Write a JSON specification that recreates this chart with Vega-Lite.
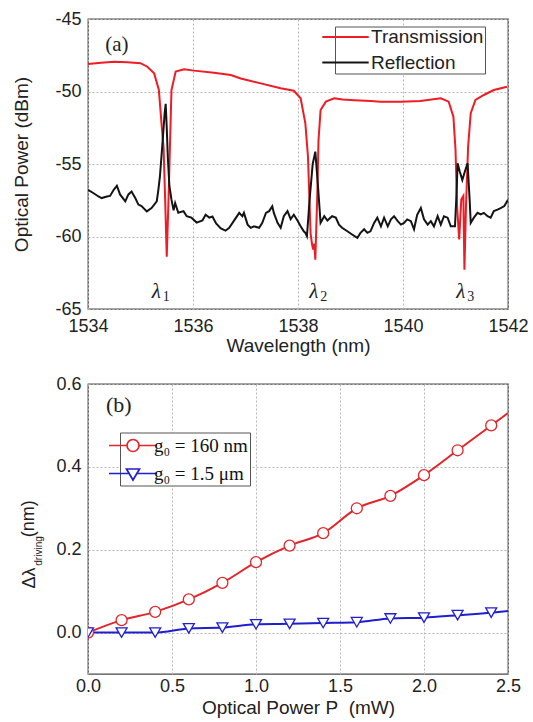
{
  "$schema": "https://vega.github.io/schema/vega-lite/v6.json",
  "background": "white",
  "padding": {"left": 12, "top": 9, "right": 5, "bottom": 0},
  "bounds": "flush",
  "spacing": 75,
  "resolve": {"scale": {"color": "independent", "x": "independent", "y": "independent"}, "legend": {"color": "independent"}},
  "config": {
    "font": "Liberation Sans",
    "view": {"stroke": "#4a4a4a", "strokeWidth": 1.3},
    "axis": {
      "grid": true, "gridColor": "#b5b5b5", "gridDash": [2, 2], "gridWidth": 1,
      "domain": false, "ticks": false, "tickSize": 0, "labelFlush": false, "labelOverlap": false,
      "labelFont": "Liberation Sans", "labelFontSize": 18, "labelColor": "#222222", "labelPadding": 7,
      "titleFont": "Liberation Sans", "titleFontSize": 19, "titleFontWeight": "normal", "titleColor": "#222222"
    },
    "legend": {"titleFontWeight": "normal"}
  },
  "datasets": {
    "spectra": [
      {"series": "Transmission", "wl": 1534.00, "power": -48.10},
      {"series": "Transmission", "wl": 1534.25, "power": -48.02},
      {"series": "Transmission", "wl": 1534.50, "power": -47.94},
      {"series": "Transmission", "wl": 1534.75, "power": -47.98},
      {"series": "Transmission", "wl": 1535.00, "power": -48.05},
      {"series": "Transmission", "wl": 1535.13, "power": -48.29},
      {"series": "Transmission", "wl": 1535.26, "power": -48.75},
      {"series": "Transmission", "wl": 1535.35, "power": -49.90},
      {"series": "Transmission", "wl": 1535.40, "power": -52.20},
      {"series": "Transmission", "wl": 1535.44, "power": -53.90},
      {"series": "Transmission", "wl": 1535.47, "power": -57.50},
      {"series": "Transmission", "wl": 1535.50, "power": -61.40},
      {"series": "Transmission", "wl": 1535.53, "power": -57.90},
      {"series": "Transmission", "wl": 1535.56, "power": -53.90},
      {"series": "Transmission", "wl": 1535.59, "power": -49.90},
      {"series": "Transmission", "wl": 1535.67, "power": -48.63},
      {"series": "Transmission", "wl": 1535.83, "power": -48.47},
      {"series": "Transmission", "wl": 1536.02, "power": -48.56},
      {"series": "Transmission", "wl": 1536.40, "power": -48.70},
      {"series": "Transmission", "wl": 1536.72, "power": -48.86},
      {"series": "Transmission", "wl": 1536.91, "power": -49.10},
      {"series": "Transmission", "wl": 1537.29, "power": -49.44},
      {"series": "Transmission", "wl": 1537.67, "power": -49.78},
      {"series": "Transmission", "wl": 1537.92, "power": -49.95},
      {"series": "Transmission", "wl": 1538.05, "power": -50.47},
      {"series": "Transmission", "wl": 1538.14, "power": -52.20},
      {"series": "Transmission", "wl": 1538.19, "power": -54.50},
      {"series": "Transmission", "wl": 1538.24, "power": -59.80},
      {"series": "Transmission", "wl": 1538.27, "power": -60.60},
      {"series": "Transmission", "wl": 1538.29, "power": -60.90},
      {"series": "Transmission", "wl": 1538.31, "power": -60.50},
      {"series": "Transmission", "wl": 1538.33, "power": -61.60},
      {"series": "Transmission", "wl": 1538.37, "power": -56.80},
      {"series": "Transmission", "wl": 1538.39, "power": -53.40},
      {"series": "Transmission", "wl": 1538.43, "power": -51.28},
      {"series": "Transmission", "wl": 1538.53, "power": -50.70},
      {"series": "Transmission", "wl": 1538.69, "power": -50.47},
      {"series": "Transmission", "wl": 1538.85, "power": -50.55},
      {"series": "Transmission", "wl": 1539.07, "power": -50.60},
      {"series": "Transmission", "wl": 1539.39, "power": -50.65},
      {"series": "Transmission", "wl": 1539.57, "power": -50.70},
      {"series": "Transmission", "wl": 1539.96, "power": -50.70},
      {"series": "Transmission", "wl": 1540.33, "power": -50.65},
      {"series": "Transmission", "wl": 1540.72, "power": -50.47},
      {"series": "Transmission", "wl": 1540.87, "power": -50.70},
      {"series": "Transmission", "wl": 1540.96, "power": -51.74},
      {"series": "Transmission", "wl": 1541.00, "power": -54.00},
      {"series": "Transmission", "wl": 1541.03, "power": -57.90},
      {"series": "Transmission", "wl": 1541.07, "power": -60.20},
      {"series": "Transmission", "wl": 1541.11, "power": -57.45},
      {"series": "Transmission", "wl": 1541.15, "power": -57.20},
      {"series": "Transmission", "wl": 1541.17, "power": -62.30},
      {"series": "Transmission", "wl": 1541.20, "power": -57.90},
      {"series": "Transmission", "wl": 1541.24, "power": -53.80},
      {"series": "Transmission", "wl": 1541.29, "power": -51.50},
      {"series": "Transmission", "wl": 1541.38, "power": -50.58},
      {"series": "Transmission", "wl": 1541.54, "power": -50.24},
      {"series": "Transmission", "wl": 1541.73, "power": -49.90},
      {"series": "Transmission", "wl": 1541.98, "power": -49.67},
      {"series": "Reflection", "wl": 1534.00, "power": -56.78},
      {"series": "Reflection", "wl": 1534.10, "power": -57.00},
      {"series": "Reflection", "wl": 1534.20, "power": -57.24},
      {"series": "Reflection", "wl": 1534.26, "power": -57.35},
      {"series": "Reflection", "wl": 1534.36, "power": -57.24},
      {"series": "Reflection", "wl": 1534.42, "power": -57.20},
      {"series": "Reflection", "wl": 1534.49, "power": -56.78},
      {"series": "Reflection", "wl": 1534.55, "power": -56.50},
      {"series": "Reflection", "wl": 1534.61, "power": -57.10},
      {"series": "Reflection", "wl": 1534.71, "power": -57.58},
      {"series": "Reflection", "wl": 1534.77, "power": -57.10},
      {"series": "Reflection", "wl": 1534.83, "power": -56.90},
      {"series": "Reflection", "wl": 1534.90, "power": -57.35},
      {"series": "Reflection", "wl": 1534.96, "power": -57.80},
      {"series": "Reflection", "wl": 1535.02, "power": -57.90},
      {"series": "Reflection", "wl": 1535.12, "power": -58.27},
      {"series": "Reflection", "wl": 1535.21, "power": -58.04},
      {"series": "Reflection", "wl": 1535.31, "power": -57.58},
      {"series": "Reflection", "wl": 1535.34, "power": -56.78},
      {"series": "Reflection", "wl": 1535.37, "power": -55.86},
      {"series": "Reflection", "wl": 1535.42, "power": -53.50},
      {"series": "Reflection", "wl": 1535.46, "power": -51.50},
      {"series": "Reflection", "wl": 1535.48, "power": -50.85},
      {"series": "Reflection", "wl": 1535.50, "power": -52.50},
      {"series": "Reflection", "wl": 1535.52, "power": -54.50},
      {"series": "Reflection", "wl": 1535.55, "power": -56.50},
      {"series": "Reflection", "wl": 1535.59, "power": -57.46},
      {"series": "Reflection", "wl": 1535.63, "power": -58.20},
      {"series": "Reflection", "wl": 1535.66, "power": -57.70},
      {"series": "Reflection", "wl": 1535.72, "power": -58.36},
      {"series": "Reflection", "wl": 1535.82, "power": -58.25},
      {"series": "Reflection", "wl": 1535.88, "power": -58.60},
      {"series": "Reflection", "wl": 1535.97, "power": -58.70},
      {"series": "Reflection", "wl": 1536.07, "power": -59.04},
      {"series": "Reflection", "wl": 1536.18, "power": -58.90},
      {"series": "Reflection", "wl": 1536.24, "power": -58.50},
      {"series": "Reflection", "wl": 1536.31, "power": -58.70},
      {"series": "Reflection", "wl": 1536.37, "power": -58.62},
      {"series": "Reflection", "wl": 1536.44, "power": -59.10},
      {"series": "Reflection", "wl": 1536.53, "power": -59.45},
      {"series": "Reflection", "wl": 1536.62, "power": -59.60},
      {"series": "Reflection", "wl": 1536.69, "power": -59.40},
      {"series": "Reflection", "wl": 1536.82, "power": -58.70},
      {"series": "Reflection", "wl": 1536.88, "power": -58.37},
      {"series": "Reflection", "wl": 1536.94, "power": -58.60},
      {"series": "Reflection", "wl": 1536.97, "power": -58.37},
      {"series": "Reflection", "wl": 1537.04, "power": -59.18},
      {"series": "Reflection", "wl": 1537.10, "power": -59.40},
      {"series": "Reflection", "wl": 1537.16, "power": -59.30},
      {"series": "Reflection", "wl": 1537.26, "power": -59.40},
      {"series": "Reflection", "wl": 1537.32, "power": -59.06},
      {"series": "Reflection", "wl": 1537.39, "power": -58.37},
      {"series": "Reflection", "wl": 1537.45, "power": -58.25},
      {"series": "Reflection", "wl": 1537.51, "power": -57.92},
      {"series": "Reflection", "wl": 1537.54, "power": -58.37},
      {"series": "Reflection", "wl": 1537.61, "power": -59.06},
      {"series": "Reflection", "wl": 1537.67, "power": -59.40},
      {"series": "Reflection", "wl": 1537.73, "power": -58.60},
      {"series": "Reflection", "wl": 1537.80, "power": -58.25},
      {"series": "Reflection", "wl": 1537.86, "power": -58.80},
      {"series": "Reflection", "wl": 1537.92, "power": -58.50},
      {"series": "Reflection", "wl": 1537.99, "power": -58.90},
      {"series": "Reflection", "wl": 1538.05, "power": -59.30},
      {"series": "Reflection", "wl": 1538.11, "power": -59.64},
      {"series": "Reflection", "wl": 1538.14, "power": -59.75},
      {"series": "Reflection", "wl": 1538.17, "power": -59.98},
      {"series": "Reflection", "wl": 1538.22, "power": -57.50},
      {"series": "Reflection", "wl": 1538.28, "power": -55.00},
      {"series": "Reflection", "wl": 1538.33, "power": -54.15},
      {"series": "Reflection", "wl": 1538.38, "power": -56.50},
      {"series": "Reflection", "wl": 1538.43, "power": -59.06},
      {"series": "Reflection", "wl": 1538.50, "power": -58.60},
      {"series": "Reflection", "wl": 1538.56, "power": -58.90},
      {"series": "Reflection", "wl": 1538.65, "power": -58.60},
      {"series": "Reflection", "wl": 1538.72, "power": -58.70},
      {"series": "Reflection", "wl": 1538.78, "power": -59.18},
      {"series": "Reflection", "wl": 1538.84, "power": -59.40},
      {"series": "Reflection", "wl": 1538.94, "power": -59.64},
      {"series": "Reflection", "wl": 1539.03, "power": -59.86},
      {"series": "Reflection", "wl": 1539.13, "power": -60.10},
      {"series": "Reflection", "wl": 1539.19, "power": -59.75},
      {"series": "Reflection", "wl": 1539.26, "power": -59.50},
      {"series": "Reflection", "wl": 1539.32, "power": -59.75},
      {"series": "Reflection", "wl": 1539.38, "power": -59.64},
      {"series": "Reflection", "wl": 1539.45, "power": -59.06},
      {"series": "Reflection", "wl": 1539.51, "power": -58.70},
      {"series": "Reflection", "wl": 1539.58, "power": -59.30},
      {"series": "Reflection", "wl": 1539.64, "power": -58.70},
      {"series": "Reflection", "wl": 1539.71, "power": -59.30},
      {"series": "Reflection", "wl": 1539.77, "power": -58.82},
      {"series": "Reflection", "wl": 1539.83, "power": -58.60},
      {"series": "Reflection", "wl": 1539.90, "power": -58.94},
      {"series": "Reflection", "wl": 1539.96, "power": -59.18},
      {"series": "Reflection", "wl": 1540.02, "power": -59.06},
      {"series": "Reflection", "wl": 1540.08, "power": -58.82},
      {"series": "Reflection", "wl": 1540.15, "power": -58.94},
      {"series": "Reflection", "wl": 1540.21, "power": -59.50},
      {"series": "Reflection", "wl": 1540.27, "power": -58.50},
      {"series": "Reflection", "wl": 1540.34, "power": -58.03},
      {"series": "Reflection", "wl": 1540.40, "power": -58.82},
      {"series": "Reflection", "wl": 1540.47, "power": -59.18},
      {"series": "Reflection", "wl": 1540.53, "power": -58.94},
      {"series": "Reflection", "wl": 1540.59, "power": -59.30},
      {"series": "Reflection", "wl": 1540.66, "power": -58.60},
      {"series": "Reflection", "wl": 1540.72, "power": -59.18},
      {"series": "Reflection", "wl": 1540.78, "power": -58.60},
      {"series": "Reflection", "wl": 1540.85, "power": -58.70},
      {"series": "Reflection", "wl": 1540.91, "power": -59.30},
      {"series": "Reflection", "wl": 1540.99, "power": -59.30},
      {"series": "Reflection", "wl": 1541.02, "power": -57.00},
      {"series": "Reflection", "wl": 1541.04, "power": -54.95},
      {"series": "Reflection", "wl": 1541.08, "power": -55.50},
      {"series": "Reflection", "wl": 1541.13, "power": -56.10},
      {"series": "Reflection", "wl": 1541.18, "power": -55.50},
      {"series": "Reflection", "wl": 1541.23, "power": -54.95},
      {"series": "Reflection", "wl": 1541.27, "power": -57.50},
      {"series": "Reflection", "wl": 1541.29, "power": -59.06},
      {"series": "Reflection", "wl": 1541.35, "power": -58.70},
      {"series": "Reflection", "wl": 1541.42, "power": -58.37},
      {"series": "Reflection", "wl": 1541.48, "power": -58.48},
      {"series": "Reflection", "wl": 1541.54, "power": -58.37},
      {"series": "Reflection", "wl": 1541.61, "power": -58.60},
      {"series": "Reflection", "wl": 1541.67, "power": -58.70},
      {"series": "Reflection", "wl": 1541.73, "power": -58.25},
      {"series": "Reflection", "wl": 1541.80, "power": -58.15},
      {"series": "Reflection", "wl": 1541.86, "power": -58.04},
      {"series": "Reflection", "wl": 1541.93, "power": -57.90},
      {"series": "Reflection", "wl": 1542.00, "power": -57.46}
    ],
    "annotA": [
      {"kind": "panel", "wl": 1534.55, "power": -46.8, "text": "(a)"},
      {"kind": "lam", "wl": 1535.30, "power": -63.8, "text": "λ", "sub": "1"},
      {"kind": "lam", "wl": 1538.30, "power": -63.8, "text": "λ", "sub": "2"},
      {"kind": "lam", "wl": 1541.10, "power": -63.8, "text": "λ", "sub": "3"}
    ],
    "shift": [
      {"series": "g₀ = 160 nm", "p": 0.0, "d": 0.0},
      {"series": "g₀ = 160 nm", "p": 0.2, "d": 0.03},
      {"series": "g₀ = 160 nm", "p": 0.4, "d": 0.05},
      {"series": "g₀ = 160 nm", "p": 0.6, "d": 0.08},
      {"series": "g₀ = 160 nm", "p": 0.8, "d": 0.12},
      {"series": "g₀ = 160 nm", "p": 1.0, "d": 0.17},
      {"series": "g₀ = 160 nm", "p": 1.2, "d": 0.21},
      {"series": "g₀ = 160 nm", "p": 1.4, "d": 0.24},
      {"series": "g₀ = 160 nm", "p": 1.6, "d": 0.30},
      {"series": "g₀ = 160 nm", "p": 1.8, "d": 0.33},
      {"series": "g₀ = 160 nm", "p": 2.0, "d": 0.38},
      {"series": "g₀ = 160 nm", "p": 2.2, "d": 0.44},
      {"series": "g₀ = 160 nm", "p": 2.4, "d": 0.50},
      {"series": "g₀ = 160 nm", "p": 2.5, "d": 0.53},
      {"series": "g₀ = 1.5 μm", "p": 0.0, "d": 0.0},
      {"series": "g₀ = 1.5 μm", "p": 0.2, "d": 0.0},
      {"series": "g₀ = 1.5 μm", "p": 0.4, "d": 0.0},
      {"series": "g₀ = 1.5 μm", "p": 0.6, "d": 0.01},
      {"series": "g₀ = 1.5 μm", "p": 0.8, "d": 0.012},
      {"series": "g₀ = 1.5 μm", "p": 1.0, "d": 0.02},
      {"series": "g₀ = 1.5 μm", "p": 1.2, "d": 0.021},
      {"series": "g₀ = 1.5 μm", "p": 1.4, "d": 0.023},
      {"series": "g₀ = 1.5 μm", "p": 1.6, "d": 0.025},
      {"series": "g₀ = 1.5 μm", "p": 1.8, "d": 0.034},
      {"series": "g₀ = 1.5 μm", "p": 2.0, "d": 0.036},
      {"series": "g₀ = 1.5 μm", "p": 2.2, "d": 0.042},
      {"series": "g₀ = 1.5 μm", "p": 2.4, "d": 0.048},
      {"series": "g₀ = 1.5 μm", "p": 2.5, "d": 0.052}
    ],
    "annotB": [
      {"kind": "panel", "p": 0.183, "d": 0.55, "text": "(b)"},
      {"kind": "big", "p": -0.347, "d": 0.132, "text": "Δλ"},
      {"kind": "small", "p": -0.293, "d": 0.197, "text": "driving"},
      {"kind": "big", "p": -0.353, "d": 0.275, "text": "(nm)"}
    ]
  },
  "vconcat": [
    {
      "width": 420,
      "height": 290,
      "encoding": {
        "x": {"field": "wl", "type": "quantitative",
              "scale": {"domain": [1534, 1542], "nice": false, "zero": false},
              "axis": {"values": [1534, 1536, 1538, 1540, 1542], "format": "d", "title": "Wavelength (nm)", "labelPadding": 8, "titlePadding": 1}},
        "y": {"field": "power", "type": "quantitative",
              "scale": {"domain": [-65, -45], "nice": false, "zero": false},
              "axis": {"values": [-65, -60, -55, -50, -45], "labelExpr": "'' + datum.value", "title": "Optical Power (dBm)", "titlePadding": 23}}
      },
      "layer": [
        {
          "data": {"name": "spectra"},
          "transform": [{"filter": "datum.series === 'Transmission'"}],
          "mark": {"type": "line", "strokeWidth": 2, "clip": true},
          "encoding": {
            "color": {"field": "series", "type": "nominal",
                      "scale": {"domain": ["Transmission", "Reflection"], "range": ["#ee1c24", "#141414"]},
                      "legend": {"orient": "none", "legendX": 247, "legendY": 7.5, "title": null,
                                 "strokeColor": "#555555", "fillColor": "white", "padding": 1,
                                 "symbolSize": 256, "symbolStrokeWidth": 2,
                                 "symbolOffset": 0, "labelOffset": 16, "labelFont": "Liberation Sans",
                                 "labelFontSize": 19, "labelColor": "#222222", "rowPadding": 5.5,
                                 "encode": {"symbols": {"update": {
                                   "shape": {"value": "M-2.9,0H2.9"},
                                   "strokeWidth": {"value": 2}
                                 }}}}}
          }
        },
        {
          "data": {"name": "spectra"},
          "transform": [{"filter": "datum.series === 'Reflection'"}],
          "mark": {"type": "line", "strokeWidth": 2, "clip": true},
          "encoding": {
            "color": {"field": "series", "type": "nominal", "legend": null}
          }
        },
        {
          "data": {"name": "annotA"},
          "transform": [{"filter": "datum.kind === 'panel'"}],
          "mark": {"type": "text", "font": "Liberation Serif", "fontSize": 21, "color": "#222222"},
          "encoding": {"text": {"field": "text"}}
        },
        {
          "data": {"name": "annotA"},
          "transform": [{"filter": "datum.kind === 'lam'"}],
          "mark": {"type": "text", "font": "Liberation Serif", "fontStyle": "italic", "fontSize": 21, "color": "#222222"},
          "encoding": {"text": {"field": "text"}}
        },
        {
          "data": {"name": "annotA"},
          "transform": [{"filter": "datum.kind === 'lam'"}],
          "mark": {"type": "text", "font": "Liberation Serif", "fontSize": 14, "dx": 10, "dy": 5, "color": "#222222"},
          "encoding": {"text": {"field": "sub"}}
        }
      ]
    },
    {
      "width": 420,
      "height": 290,
      "encoding": {
        "x": {"field": "p", "type": "quantitative",
              "scale": {"domain": [0, 2.5], "nice": false, "zero": false},
              "axis": {"values": [0, 0.5, 1, 1.5, 2, 2.5], "format": ".1f", "title": "Optical Power P\u00a0\u00a0(mW)", "labelPadding": 3, "titlePadding": 3}},
        "y": {"field": "d", "type": "quantitative",
              "scale": {"domain": [-0.1, 0.6], "nice": false, "zero": false},
              "axis": {"values": [0, 0.2, 0.4, 0.6], "format": ".1f", "title": null}}
      },
      "layer": [
        {
          "data": {"name": "shift"},
          "mark": {"type": "line", "strokeWidth": 2, "interpolate": "monotone", "clip": true},
          "encoding": {
            "color": {"field": "series", "type": "nominal",
                      "scale": {"domain": ["g₀ = 160 nm", "g₀ = 1.5 μm"], "range": ["#e3242b", "#1f1fcf"]},
                      "legend": {"orient": "none", "legendX": 32, "legendY": 48.5, "title": null,
                                 "strokeColor": "#555555", "fillColor": "white", "padding": 2,
                                 "symbolSize": 400, "symbolStrokeWidth": 1.7,
                                 "symbolOffset": 0, "labelOffset": 10, "labelFont": "Liberation Serif",
                                 "labelFontSize": 19, "labelColor": "#111111", "rowPadding": 7,
                                 "encode": {"symbols": {"update": {
                                   "shape": {"signal": "indexof(datum.value, '160') >= 0 ? 'M-2.4,0H-0.62M0.62,0H2.4M0.6,0A0.6,0.6,0,1,1,-0.6,0A0.6,0.6,0,1,1,0.6,0Z' : 'M-2.4,0H-0.45M0.45,0H2.4M-0.65,-0.45L0.65,-0.45L0,0.65Z'"},
                                   "fill": {"value": "white"},
                                   "strokeWidth": {"value": 1.7}
                                 }}}}}
          }
        },
        {
          "data": {"name": "shift"},
          "transform": [{"filter": "datum.p <= 2.4 && indexof(datum.series, '160') >= 0"}],
          "mark": {"type": "point", "shape": "circle", "filled": false, "fill": "white", "fillOpacity": 1, "opacity": 1, "size": 120, "strokeWidth": 1.3, "clip": true},
          "encoding": {
            "color": {"field": "series", "type": "nominal", "legend": null}
          }
        },
        {
          "data": {"name": "shift"},
          "transform": [{"filter": "datum.p <= 2.4 && indexof(datum.series, '160') < 0"}],
          "mark": {"type": "point", "shape": "triangle-down", "filled": false, "fill": "white", "fillOpacity": 1, "opacity": 1, "size": 120, "strokeWidth": 1.3, "clip": true},
          "encoding": {
            "color": {"field": "series", "type": "nominal", "legend": null}
          }
        },
        {
          "data": {"name": "annotB"},
          "transform": [{"filter": "datum.kind === 'panel'"}],
          "mark": {"type": "text", "font": "Liberation Serif", "fontSize": 22, "color": "#222222"},
          "encoding": {"text": {"field": "text"}}
        },
        {
          "data": {"name": "annotB"},
          "transform": [{"filter": "datum.kind === 'big'"}],
          "mark": {"type": "text", "font": "Liberation Sans", "fontSize": 18, "angle": 270, "color": "#222222"},
          "encoding": {"text": {"field": "text"}}
        },
        {
          "data": {"name": "annotB"},
          "transform": [{"filter": "datum.kind === 'small'"}],
          "mark": {"type": "text", "font": "Liberation Sans", "fontSize": 10, "angle": 270, "color": "#222222"},
          "encoding": {"text": {"field": "text"}}
        }
      ]
    }
  ]
}
